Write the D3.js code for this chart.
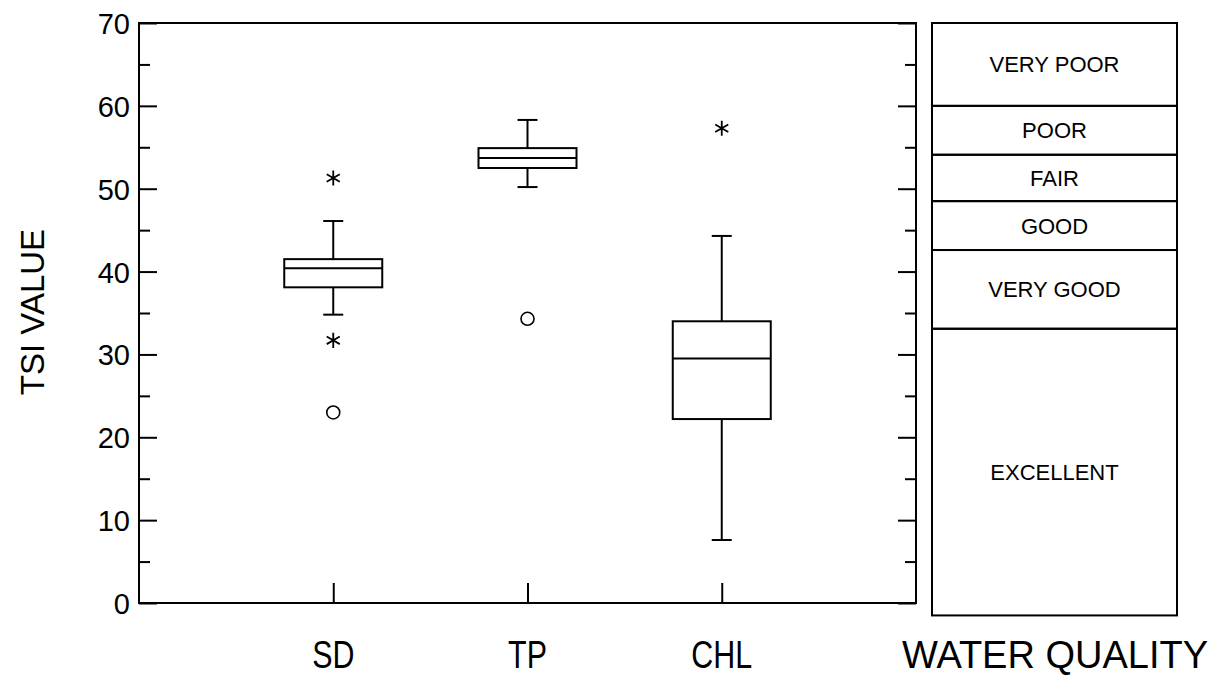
<!DOCTYPE html>
<html>
<head>
<meta charset="utf-8">
<script src="https://cdn.jsdelivr.net/npm/d3@7"></script>
<style>
  body { margin: 0; background: #fff; }
  text { font-family: "Liberation Sans", Arial, sans-serif; fill: #000; }
</style>
</head>
<body>
<div id="chart"></div>
<script>
// box plot data (TSI values)
var groups = ["SD", "TP", "CHL"];
var whiskerLow = [34.8, 50.2, 7.6];
var q1 = [38.1, 52.5, 22.2];
var median = [40.4, 53.7, 29.5];
var q3 = [41.5, 54.9, 34.0];
var whiskerHigh = [46.1, 58.3, 44.3];
// outside values (asterisks) and far outside values (circles)
var outsideGroups = ["SD", "SD", "CHL"];
var outsideValues = [51.3, 31.7, 57.3];
var farGroups = ["SD", "TP"];
var farValues = [23.0, 34.3];

// water quality classes, bottom to top, with their TSI limits
var qualityLabels = ["EXCELLENT", "VERY GOOD", "GOOD", "FAIR", "POOR", "VERY POOR"];
var qualityLimits = [-1.5, 33.1, 42.6, 48.5, 54.1, 60.0, 70.0];

var yTicks = [0, 10, 20, 30, 40, 50, 60, 70];
var yMinorTicks = [5, 15, 25, 35, 45, 55, 65];

var svgWidth = 1219, svgHeight = 689;
var plot = { left: 139, right: 916, top: 23, bottom: 603 };
var panel = { left: 932, right: 1177 };
var boxWidth = 98, capWidth = 20;

var svg = d3.select("#chart").append("svg")
    .attr("width", svgWidth)
    .attr("height", svgHeight);

var x = d3.scalePoint().domain(groups).range([plot.left, plot.right]).padding(1);
var y = d3.scaleLinear().domain([0, 70]).range([plot.bottom, plot.top]);

// frame
svg.append("rect")
    .attr("x", plot.left).attr("y", plot.top)
    .attr("width", plot.right - plot.left).attr("height", plot.bottom - plot.top)
    .attr("fill", "none").attr("stroke", "#000").attr("stroke-width", 2);

function styleAxis(g) {
    g.select(".domain").remove();
    g.selectAll(".tick line").attr("stroke", "#000").attr("stroke-width", 2);
}

// left axis, ticks inside
svg.append("g")
    .attr("transform", `translate(${plot.left},0)`)
    .call(d3.axisLeft(y).tickValues(yTicks).tickSize(-18).tickPadding(10))
    .call(styleAxis)
    .call(g => g.selectAll(".tick text")
        .attr("x", -9).attr("dy", "0.36em")
        .style("font-size", "29px").style("font-family", "Liberation Sans, Arial, sans-serif"));
svg.append("g")
    .attr("transform", `translate(${plot.left},0)`)
    .call(d3.axisLeft(y).tickValues(yMinorTicks).tickSize(-11).tickFormat(""))
    .call(styleAxis);

// right side ticks
svg.append("g")
    .attr("transform", `translate(${plot.right},0)`)
    .call(d3.axisRight(y).tickValues(yTicks).tickSize(-18).tickFormat(""))
    .call(styleAxis);
svg.append("g")
    .attr("transform", `translate(${plot.right},0)`)
    .call(d3.axisRight(y).tickValues(yMinorTicks).tickSize(-11).tickFormat(""))
    .call(styleAxis);

// bottom ticks + category labels (narrow face)
svg.append("g")
    .attr("transform", `translate(0,${plot.bottom})`)
    .call(d3.axisBottom(x).tickSize(-20).tickPadding(0).tickFormat(""))
    .call(styleAxis);
svg.append("g").selectAll("text")
    .data(groups)
    .join("text")
    .attr("transform", d => `translate(${x(d)},668) scale(0.8,1)`)
    .attr("text-anchor", "middle")
    .style("font-size", "38px")
    .text(d => d);

// y axis title
svg.append("text")
    .attr("transform", "translate(44,312) rotate(-90)")
    .attr("text-anchor", "middle")
    .style("font-size", "33px")
    .text("TSI VALUE");

// boxes
var boxes = svg.append("g").attr("stroke", "#000").attr("stroke-width", 2).attr("fill", "none");
groups.forEach(function(g, i) {
    var cx = x(g);
    boxes.append("line")
        .attr("x1", cx).attr("x2", cx)
        .attr("y1", y(q3[i])).attr("y2", y(whiskerHigh[i]));
    boxes.append("line")
        .attr("x1", cx).attr("x2", cx)
        .attr("y1", y(q1[i])).attr("y2", y(whiskerLow[i]));
    [whiskerLow[i], whiskerHigh[i]].forEach(function(v) {
        boxes.append("line")
            .attr("x1", cx - capWidth / 2).attr("x2", cx + capWidth / 2)
            .attr("y1", y(v)).attr("y2", y(v));
    });
    boxes.append("rect")
        .attr("x", cx - boxWidth / 2).attr("width", boxWidth)
        .attr("y", y(q3[i])).attr("height", y(q1[i]) - y(q3[i]))
        .attr("fill", "#fff");
    boxes.append("line")
        .attr("x1", cx - boxWidth / 2).attr("x2", cx + boxWidth / 2)
        .attr("y1", y(median[i])).attr("y2", y(median[i]));
});

// outside values
var star = d3.symbol().type(d3.symbolAsterisk).size(160);
svg.append("g").selectAll("path")
    .data(outsideValues)
    .join("path")
    .attr("transform", (d, i) => `translate(${x(outsideGroups[i])},${y(d)})`)
    .attr("d", star)
    .attr("fill", "none").attr("stroke", "#000").attr("stroke-width", 1.8);

svg.append("g").selectAll("circle")
    .data(farValues)
    .join("circle")
    .attr("cx", (d, i) => x(farGroups[i]))
    .attr("cy", d => y(d))
    .attr("r", 6.5)
    .attr("fill", "none").attr("stroke", "#000").attr("stroke-width", 1.6);

// water quality panel
var bands = svg.append("g");
qualityLabels.forEach(function(label, i) {
    var top = y(qualityLimits[i + 1]), bottom = y(qualityLimits[i]);
    bands.append("rect")
        .attr("x", panel.left).attr("width", panel.right - panel.left)
        .attr("y", top).attr("height", bottom - top)
        .attr("fill", "none").attr("stroke", "#000").attr("stroke-width", 2);
    bands.append("text")
        .attr("x", (panel.left + panel.right) / 2)
        .attr("y", (top + bottom) / 2)
        .attr("dy", "0.36em")
        .attr("text-anchor", "middle")
        .style("font-size", "22px")
        .text(label);
});

svg.append("text")
    .attr("x", 1055)
    .attr("y", 668)
    .attr("text-anchor", "middle")
    .style("font-size", "38px")
    .text("WATER QUALITY");
</script>
</body>
</html>
